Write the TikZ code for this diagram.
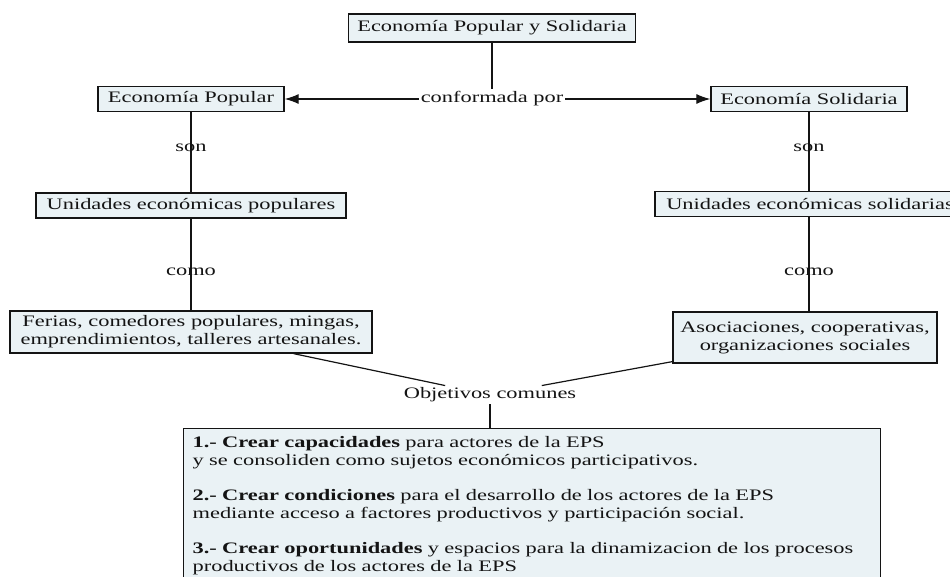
\documentclass[tikz,border=0pt]{standalone}
\usepackage{fontspec}
\setmainfont[FakeStretch=1.4]{Liberation Serif}
\usetikzlibrary{arrows.meta}
\definecolor{boxfill}{RGB}{234,242,245}
\definecolor{ink}{RGB}{20,20,20}
\begin{document}
\begin{tikzpicture}[x=1pt,y=-1pt,
  box/.style={draw=ink, line width=1.3pt, fill=boxfill, inner sep=0pt, text=ink, font=\fontsize{16}{18}\selectfont},
  lbl/.style={inner sep=2pt, text=ink, font=\fontsize{16}{18}\selectfont},
  conn/.style={draw=ink, line width=1.2pt},
  arr/.style={conn, -{Latex[length=14pt,width=10pt]}}]
\useasboundingbox (0,0) rectangle (950,576);
\clip (0,0) rectangle (950,576);

\node[box, minimum width=287pt, minimum height=28pt] (eps) at (492,28) {Economía Popular y Solidaria};
\node[box, minimum width=186pt, minimum height=25pt] (ep) at (191,99) {Economía Popular};
\node[box, minimum width=196pt, minimum height=25pt] (es) at (809,99) {Economía Solidaria};
\node[lbl, fill=white] (conf) at (492,99) {conformada por};
\draw[conn] (eps) -- (conf);
\draw[arr] (conf) -- (ep);
\draw[arr] (conf) -- (es);

\node[box, minimum width=310pt, minimum height=25pt] (upl) at (191,205.5) {Unidades económicas populares};
\node[box, minimum width=310pt, minimum height=25pt] (usl) at (810,204) {Unidades económicas solidarias};
\draw[conn] (ep) -- (upl) node[lbl, pos=0.45] (son1) {son};
\draw[conn] (es) -- (usl.north -| es) node[lbl, pos=0.45] (son2) {son};

\node[box, minimum width=362pt, minimum height=42pt, align=center] (fer) at (191,332) {Ferias, comedores populares, mingas,\\ emprendimientos, talleres artesanales.};
\node[box, minimum width=264pt, minimum height=51pt, align=center] (aso) at (805,337.5) {Asociaciones, cooperativas,\\ organizaciones sociales};
\draw[conn] (upl) -- (fer) node[lbl, pos=0.58] (como1) {como};
\draw[conn] (usl.south -| es) -- (aso.north -| es) node[lbl, pos=0.58] (como2) {como};

\node[lbl, inner xsep=0pt] (obj) at (490,395) {Objetivos comunes};
\draw[conn] (fer) -- (obj);
\draw[conn] (aso) -- (obj);

\node[box, anchor=north west, minimum width=697pt, text width=679pt, inner xsep=9pt, inner ysep=8pt, align=left] (goals) at (183,428)
{\textbf{1.- Crear capacidades} para actores de la EPS\\
y se consoliden como sujetos económicos participativos.\\[17pt]
\textbf{2.- Crear condiciones} para el desarrollo de los actores de la EPS\\
mediante acceso a factores productivos y participación social.\\[17pt]
\textbf{3.- Crear oportunidades} y espacios para la dinamizacion de los procesos\\
productivos de los actores de la EPS\\[40pt]};
\draw[conn] (obj) -- (goals.north -| obj);
\end{tikzpicture}
\end{document}
